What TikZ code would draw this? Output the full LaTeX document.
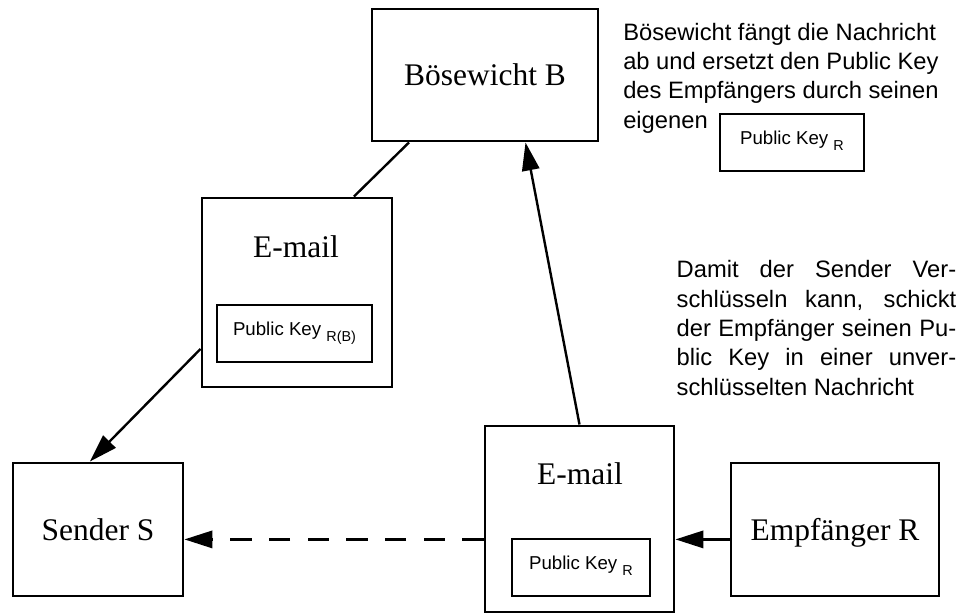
\documentclass[tikz,border=0pt]{standalone}
\usepackage{fontspec}
\setmainfont{Liberation Serif}
\setsansfont{Liberation Sans}
\usetikzlibrary{arrows.meta,calc}
\newcommand{\keysub}[1]{\ \raisebox{-4.5pt}{\fontsize{10.8}{12}\selectfont #1}}
\begin{document}
\begin{tikzpicture}[x=0.75pt,y=-0.75pt,
  party/.style={draw,line width=2.2pt,inner sep=0pt,
    text height=16pt,text depth=0pt,font=\fontsize{23.6}{28}\selectfont},
  mailbox/.style={draw,line width=2.2pt,inner sep=0pt},
  mailtitle/.style={inner sep=0pt,text height=16pt,text depth=0pt,
    font=\fontsize{23.6}{28}\selectfont},
  keybox/.style={draw,line width=0.9pt,inner sep=0pt,
    text height=10.2pt,text depth=6.5pt,font=\sffamily\fontsize{14}{17}\selectfont},
  note/.style={inner sep=0pt,anchor=north west,
    font=\sffamily\fontsize{17.8}{22}\selectfont},
  link/.style={line width=1.8pt},
  flow/.style={line width=1.8pt,-{Triangle[length=21pt,width=13pt]}},
  dashflow/.style={flow,dash pattern=on 16pt off 13pt},
]
\useasboundingbox (0,0) rectangle (965,614);

% parties
\node[party,minimum width=169.5pt,minimum height=99pt] (B) at (485,75) {Bösewicht B};
\node[party,minimum width=127.5pt,minimum height=99.75pt] (S) at (98,529.5) {Sender S};
\node[party,minimum width=156pt,minimum height=99.75pt] (E) at (835,529.5) {Empfänger R};

% forged mail
\node[mailbox,minimum width=142.5pt,minimum height=141.75pt] (M1) at (297,292.5) {};
\node[mailtitle] (M1t) at (296,247) {E-mail};
\node[keybox,minimum width=116.25pt,minimum height=42.75pt] (M1k) at (294.5,333.5)
  {Public Key\keysub{R(B)}};

% original mail
\node[mailbox,minimum width=141.75pt,minimum height=139.5pt] (M2) at (579.5,519) {};
\node[mailtitle] (M2t) at (580,473.5) {E-mail};
\node[keybox,minimum width=103.5pt,minimum height=42.75pt] (M2k) at (581,567.5)
  {Public Key\keysub{R}};

% notes
\node[note,align=left] (N1) at (623,22.7)
  {Bösewicht fängt die Nachricht\\ab und ersetzt den Public Key\\des Empfängers durch seinen\\eigenen};
\node[keybox,minimum width=108pt,minimum height=42.75pt] (Kb) at (792,142.5)
  {Public Key\keysub{R}};
\node[note,text width=209.7pt,align=justify] (N2) at (676.4,260.4)
  {\hyphenpenalty=10000\tolerance=10000
   Damit der Sender Ver-\linebreak schlüsseln kann, schickt\linebreak
   der Empfänger seinen Pu-\linebreak blic Key in einer unver-\linebreak
   schlüsselten Nachricht};

% connectors
\coordinate (dm) at ($(M2.north west)!0.608!(M2.south west)$);
\draw[link] ($(B.south west)!0.168!(B.south east)$) -- ($(M1.north west)!0.795!(M1.north east)$);
\draw[flow] (M2.north) -- ($(B.south west)!0.677!(B.south east)$);
\draw[flow] ($(M1.north west)!0.794!(M1.south west)$) -- ($(S.north west)!0.453!(S.north east)$);
\draw[dashflow] (dm) -- (S.east |- dm);
\draw[flow] (E.west |- dm) -- (M2.east |- dm);
\end{tikzpicture}
\end{document}
